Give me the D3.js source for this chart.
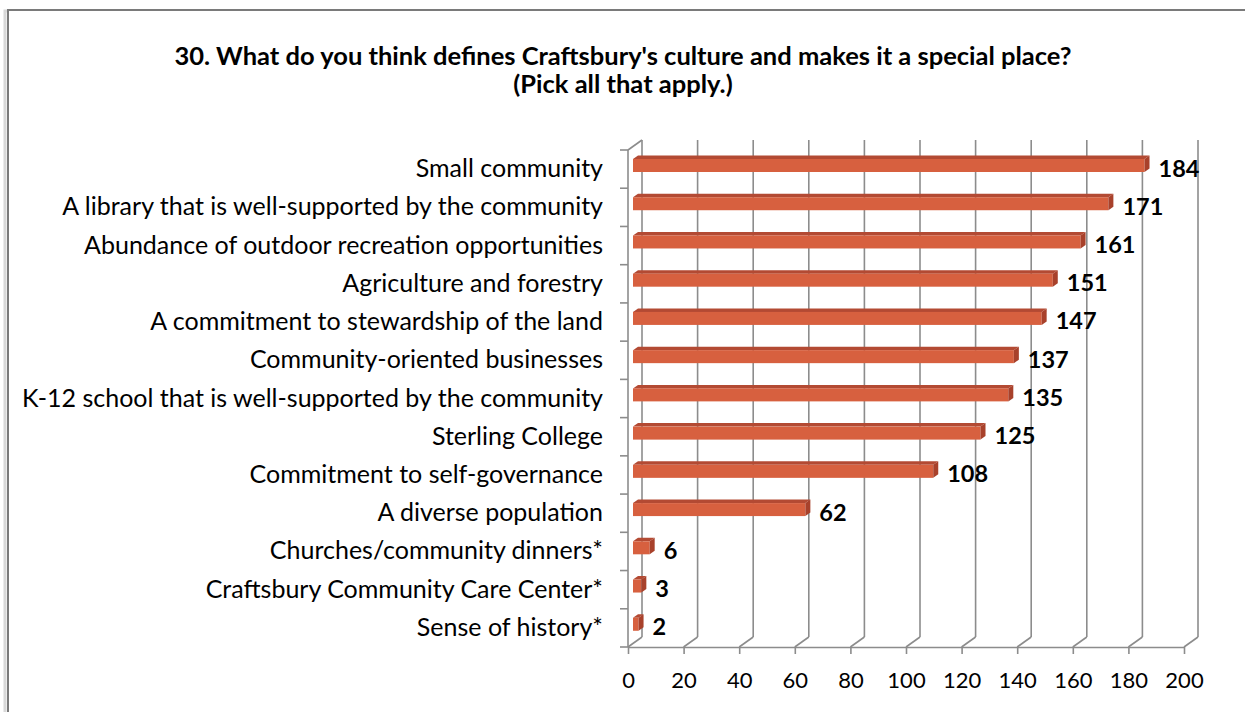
<!DOCTYPE html>
<html>
<head>
<meta charset="utf-8">
<script src="https://cdn.jsdelivr.net/npm/d3@7"></script>
<style>
  html, body { margin: 0; padding: 0; background: #ffffff; }
  svg { display: block; }
  text { font-family: Lato, "Liberation Sans", sans-serif; fill: #000; }
</style>
</head>
<body>
<svg id="chart" width="1245" height="712"></svg>
<script>
// Survey responses, top to bottom
const categories = [
  "Small community",
  "A library that is well-supported by the community",
  "Abundance of outdoor recreation opportunities",
  "Agriculture and forestry",
  "A commitment to stewardship of the land",
  "Community-oriented businesses",
  "K-12 school that is well-supported by the community",
  "Sterling College",
  "Commitment to self-governance",
  "A diverse population",
  "Churches/community dinners*",
  "Craftsbury Community Care Center*",
  "Sense of history*"
];
const values = [184, 171, 161, 151, 147, 137, 135, 125, 108, 62, 6, 3, 2];
const xTicks = [0, 20, 40, 60, 80, 100, 120, 140, 160, 180, 200];
const titleLines = [
  "30. What do you think defines Craftsbury's culture and makes it a special place?",
  "(Pick all that apply.)"
];

const FONT = "Lato, 'Liberation Sans', sans-serif";
const svg = d3.select("#chart");

// Outer chart frame
svg.append("rect")
  .attr("x", 5).attr("y", 11).attr("width", 1300).attr("height", 760)
  .attr("fill", "none").attr("stroke", "#d8d8d8").attr("stroke-width", 3);
svg.append("rect")
  .attr("x", 8).attr("y", 10).attr("width", 1300).attr("height", 760)
  .attr("fill", "#fff").attr("stroke", "#7a7a7a").attr("stroke-width", 2);

// Title
svg.append("g").selectAll("text").data(titleLines).join("text")
  .attr("x", 623).attr("y", (d, i) => 55 + i * 28)
  .attr("text-anchor", "middle").attr("dominant-baseline", "central")
  .style("font-weight", "bold").style("font-size", "25.5px")
  .text(d => d);

// Scales
const x = d3.scaleLinear().domain([0, 200]).range([628, 1184]);
const y = d3.scaleBand().domain(categories).range([150, 647]).padding(0);

// 3D wall depth offset
const DX = 14, DY = -10;
const yTop = y.range()[0], yBot = y.range()[1];
const gridColor = "#8c8c8c";

const walls = svg.append("g").attr("stroke", gridColor).attr("stroke-width", 1.6).attr("fill", "none");

// Back-wall verticals and floor diagonals for each value tick
xTicks.forEach(t => {
  const xf = x(t);
  walls.append("line").attr("x1", xf + DX).attr("x2", xf + DX)
    .attr("y1", yTop + DY).attr("y2", yBot + DY);
  walls.append("line").attr("x1", xf).attr("x2", xf + DX)
    .attr("y1", yBot).attr("y2", yBot + DY);
});

// Side wall: front edge and top diagonal
walls.append("line").attr("x1", x(0)).attr("x2", x(0)).attr("y1", yTop).attr("y2", yBot);
walls.append("line").attr("x1", x(0)).attr("x2", x(0) + DX).attr("y1", yTop).attr("y2", yTop + DY);

// Front floor edge with value axis ticks
const xAxis = d3.axisBottom(x).tickValues(xTicks).tickSize(7).tickPadding(18).tickSizeOuter(0);
const gx = svg.append("g").attr("transform", `translate(0,${yBot})`).call(xAxis);
gx.select(".domain").attr("stroke", gridColor).attr("stroke-width", 1.6);
gx.selectAll(".tick line").attr("stroke", gridColor).attr("stroke-width", 1.6);
gx.selectAll(".tick text").style("font-size", "22px").style("font-family", FONT).attr("fill", "#000");

// Category axis
const yAxis = d3.axisLeft(y).tickSize(0).tickPadding(25);
const gy = svg.append("g").attr("transform", `translate(${x(0)},0)`).call(yAxis);
gy.select(".domain").remove();
gy.selectAll(".tick text").style("font-size", "25px").style("font-family", FONT).attr("fill", "#000");

// Category separators on the side wall
const sepVals = categories.map(c => y(c)).concat([yBot]);
svg.append("g").selectAll("line").data(sepVals).join("line")
  .attr("x1", x(0) - 8).attr("x2", x(0))
  .attr("y1", d => d).attr("y2", d => d)
  .attr("stroke", gridColor).attr("stroke-width", 1.6);

// 3D bars
const BX = 5;            // bar offset into the depth
const bdx = 5, bdy = 3.5; // bar thickness in depth
const barTop = 9, barH = 13;
const data = categories.map((c, i) => ({ c, v: values[i] }));

const bars = svg.append("g");
data.forEach(d => {
  const x0 = x(0) + BX, x1 = x(d.v) + BX;
  const yt = y(d.c) + barTop, yb = yt + barH;
  // top face
  bars.append("path")
    .attr("d", `M${x0},${yt}L${x1},${yt}L${x1 + bdx},${yt - bdy}L${x0 + bdx},${yt - bdy}Z`)
    .attr("fill", "#b34a33");
  // front face
  bars.append("rect")
    .attr("x", x0).attr("y", yt).attr("width", x1 - x0).attr("height", barH)
    .attr("fill", "#d7603f");
  // end face
  bars.append("path")
    .attr("d", `M${x1},${yt}L${x1 + bdx},${yt - bdy}L${x1 + bdx},${yb - bdy}L${x1},${yb}Z`)
    .attr("fill", "#a8412b");
});

// Value labels
svg.append("g").selectAll("text").data(data).join("text")
  .attr("x", d => x(d.v) + BX + bdx + 9)
  .attr("y", d => y(d.c) + barTop + barH / 2 + 2)
  .attr("dominant-baseline", "central")
  .style("font-weight", "bold").style("font-size", "23.5px")
  .text(d => d.v);
</script>
</body>
</html>
